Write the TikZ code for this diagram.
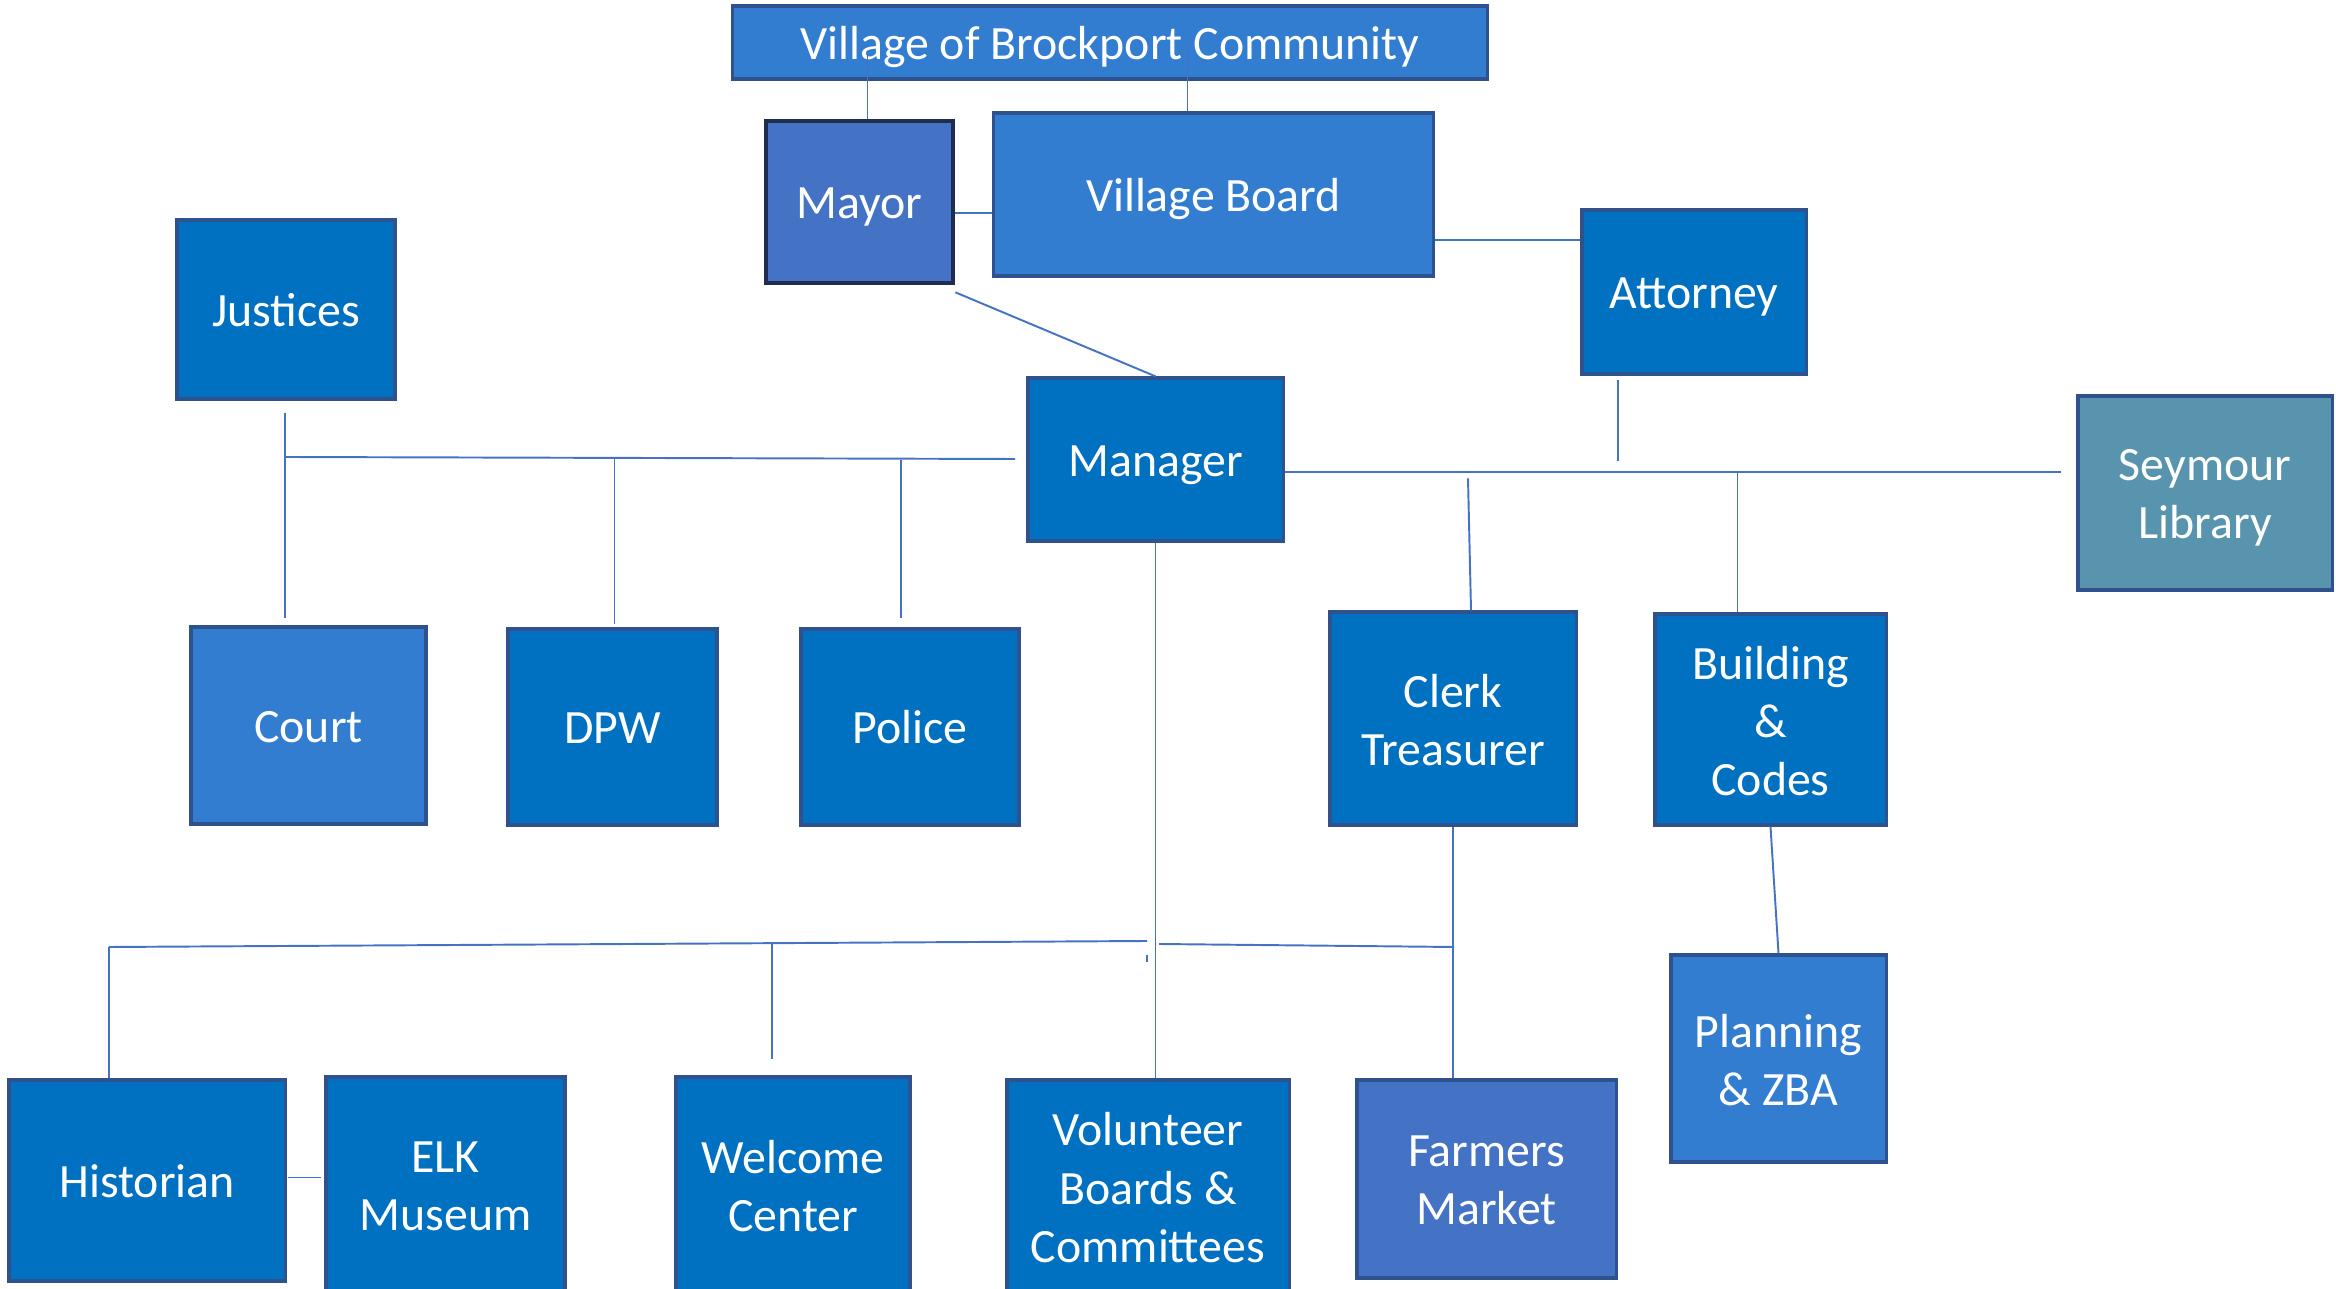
\documentclass[tikz,border=0pt]{standalone}
\usepackage{fontspec}
\setmainfont{Carlito}
\usetikzlibrary{calc}

\definecolor{deptblue}{HTML}{0070C0}
\definecolor{lightblue}{HTML}{337DD1}
\definecolor{slateblue}{HTML}{4472C4}
\definecolor{libteal}{HTML}{5894AD}
\definecolor{edgeblue}{HTML}{2F528F}
\definecolor{mayoredge}{HTML}{1F2D50}

% line box like the slide text
\newcommand{\linestrut}{\rule[-0.25em]{0pt}{1.2em}}
% stacked lines sit a little lower
\newcommand{\dropline}[1]{\raisebox{-2.1pt}[\height][\depth]{#1}}

\begin{document}
\begin{tikzpicture}[x=0.01cm, y=-0.01cm,
	unit/.style={draw=edgeblue, line width=0.9pt, fill=deptblue, text=white, align=center,
		inner sep=0pt, font=\fontsize{13.6}{16.5}\selectfont,
		execute at begin node=\linestrut},
	link/.style={draw=slateblue, line width=0.55pt}]
\useasboundingbox (0,0) rectangle (2336,1289);
%
% top level
\node[unit, fill=lightblue, minimum width=7.54cm, minimum height=0.73cm] (community) at (1110,42.5) {Village of Brockport Community};
\node[unit, fill=slateblue, draw=mayoredge, line width=1.3pt, minimum width=1.87cm, minimum height=1.62cm] (mayor) at (859.5,202) {Mayor};
\node[unit, fill=lightblue, minimum width=4.39cm, minimum height=1.63cm] (board) at (1213.5,194.5) {Village Board};
\node[unit, minimum width=2.24cm, minimum height=1.64cm] (attorney) at (1694,292) {Attorney};
\node[unit, minimum width=2.18cm, minimum height=1.79cm] (justices) at (286,309.5) {Justices};
\node[unit, minimum width=2.55cm, minimum height=1.63cm] (manager) at (1155.5,459.5) {Manager};
\node[unit, fill=libteal, minimum width=2.54cm, minimum height=1.94cm] (seymour) at (2205,493) {\dropline{Seymour}\\\dropline{Library}};
%
% departments
\node[unit, fill=lightblue, minimum width=2.35cm, minimum height=1.97cm] (court) at (308.5,725.5) {Court};
\node[unit, minimum width=2.09cm, minimum height=1.96cm] (dpw) at (612.5,727) {DPW};
\node[unit, minimum width=2.18cm, minimum height=1.96cm] (police) at (910,727) {Police};
\node[unit, minimum width=2.46cm, minimum height=2.13cm] (clerk) at (1453,718.5) {\dropline{Clerk}\\\dropline{Treasurer}};
\node[unit, minimum width=2.31cm, minimum height=2.11cm] (building) at (1770.5,719.5) {\dropline{Building}\\\dropline{\&}\\\dropline{Codes}};
\node[unit, fill=lightblue, minimum width=2.15cm, minimum height=2.07cm] (planning) at (1778.5,1058.5) {\dropline{Planning}\\\dropline{\& ZBA}};
%
% bottom row
\node[unit, minimum width=2.76cm, minimum height=2.01cm] (historian) at (147,1180.5) {Historian};
\node[unit, minimum width=2.39cm, minimum height=2.15cm] (elk) at (445.5,1184.5) {\dropline{ELK}\\\dropline{Museum}};
\node[unit, minimum width=2.34cm, minimum height=2.15cm] (welcome) at (793,1184.5) {\dropline{Welcome}\\\dropline{Center}};
\node[unit, minimum width=2.82cm, minimum height=2.12cm] (volunteer) at (1148,1186) {\dropline{Volunteer}\\\dropline{Boards \&}\\\dropline{Committees}};
\node[unit, fill=slateblue, minimum width=2.59cm, minimum height=1.98cm] (farmers) at (1486.5,1179) {\dropline{Farmers}\\\dropline{Market}};
%
% bus lines
\coordinate (mb) at (0,213);
\coordinate (ba) at (0,240);
\coordinate (lbus) at (285,457);
\coordinate (lbusend) at (1015,459);
\coordinate (rbus) at (0,472);
\coordinate (bbusl) at (109,947);
\coordinate (bbusm) at (1147,941);
\coordinate (bbusr) at (1159,944);
\coordinate (bbusc) at (1454,947);
\coordinate (wtop) at (772,943);
%
\draw[link] ($(mayor.north)+(8,0)$) -- +(0,-68);
\draw[link] ($(board.north)+(-26,0)$) -- +(0,-67);
\draw[link] (mayor.east |- mb) -- (board.west |- mb);
\draw[link] (board.east |- ba) -- (attorney.west |- ba);
\draw[link] ($(mayor.south east)+(0,7)$) -- (manager.north);
%
\draw[link] (lbus) -- (lbusend);
\draw[link] ($(justices.south)+(-1,12)$) -- ($(court.north -| lbus)+(0,-7)$);
\draw[link] ($(dpw.north |- lbus)+(2,2)$) -- ($(dpw.north)+(2,-3)$);
\draw[link] ($(police.north |- lbus)+(-9,3)$) -- ($(police.north)+(-9,-9)$);
%
\draw[link] (manager.east |- rbus) -- ($(seymour.west |- rbus)+(-15,0)$);
\draw[link] ($(attorney.south)+(-76,4)$) -- +(0,81);
\draw[link] ($(clerk.north)+(15,-132)$) -- ($(clerk.north)+(18,0)$);
\draw[link] ($(building.north |- rbus)+(-33,0)$) -- ($(building.north)+(-33,0)$);
\draw[link] (building.south) -- (planning.north);
%
\draw[link] (manager.south) -- (manager.south |- volunteer.north);
\draw[link] (bbusl) -- (bbusm);
\draw[link] (bbusr) -- (bbusc);
\draw[link] ($(bbusm)+(0,14)$) -- +(0,7);
\draw[link] (bbusl) -- (bbusl |- historian.north);
\draw[link] (wtop) -- ($(wtop |- welcome.north)+(0,-16)$);
\draw[link] (clerk.south) -- (clerk.south |- farmers.north);
\draw[link] ($(historian.east)+(1,-3)$) -- +(33,0);
\end{tikzpicture}
\end{document}
